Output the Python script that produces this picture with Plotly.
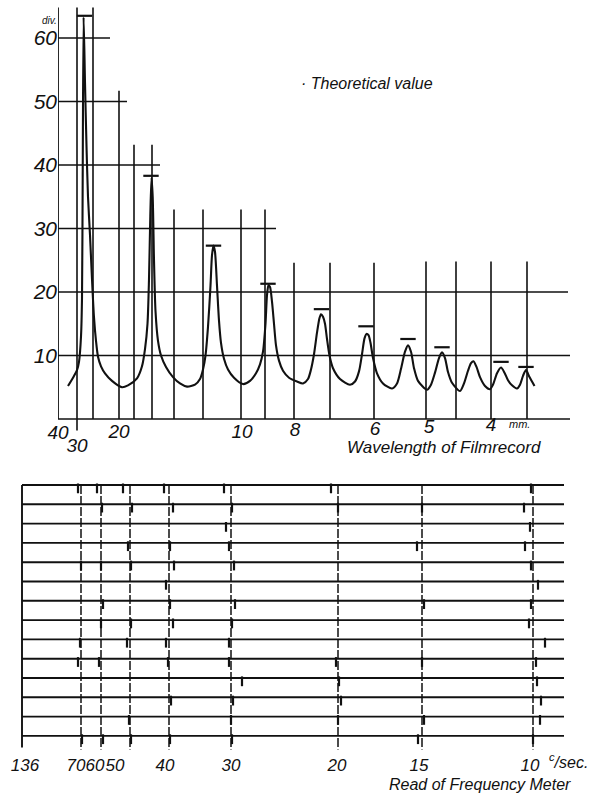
import plotly.graph_objects as go

FONT = "Liberation Sans"
INK = "#111111"

# ---------------- upper chart: resonance curve ----------------
y_ticks = [10, 20, 30, 40, 50, 60]
axis_start = 58          # position of the 40 mm end of the scale
axis_top = 64.8
hgrid_vals = [60, 50, 40, 30, 20, 10, 0]
hgrid_end = [110, 127, 160, 276, 568, 570, 570]

vgrid_pos = [77, 93, 119, 134, 152, 174, 203, 241, 265, 294, 330, 374, 426, 456, 491, 527]
vgrid_top = [64.8, 64.8, 51.7, 43.2, 43.2, 33.0, 33.0, 33.0, 33.0, 24.6, 24.6, 24.6, 24.8, 24.8, 24.8, 24.8]
vgrid_bot = [-1.8, 0, 0, 0, 0, 0, 0, 0, 0, 0, 0, 0, 0, 0, 0, 0]

wl_labels = ["40", "30", "20", "10", "8", "6", "5", "4"]
wl_pos = [58, 77, 119, 242, 295, 375, 429, 491]
wl_y = [-2.4, -4.4, -2.3, -2.3, -1.9, -1.7, -1.4, -1.1]

curve_x = [68, 73, 77, 79, 81, 82, 82.7, 83.6, 85, 86.5, 88, 90, 92, 94, 96, 98, 101, 105, 112, 122,
           128, 137, 142, 145, 147.5, 149, 150.3, 151.5, 152.7, 154, 155.5, 158, 161, 166, 173, 180, 187,
           195, 200, 203, 205.5, 208, 210.5, 212, 213.5, 215, 217, 219, 221, 224, 228, 234, 243,
           250, 256, 260, 263, 265.5, 267, 268.5, 270, 272, 274, 276, 279, 283, 289, 297, 303,
           308, 311, 314, 317, 319.5, 321, 323, 325, 327, 329.5, 333, 340, 350,
           355, 359, 362, 364.5, 366.5, 368.5, 370.5, 373, 377, 383, 392,
           397, 401, 405, 408, 411, 414, 418, 427,
           431, 435, 439, 442, 445, 448, 452, 460,
           464, 468, 471, 473.5, 476.5, 480, 485, 490,
           493, 497, 501, 504.5, 508, 512, 517,
           520, 523, 526, 529.5, 534.5]
curve_y = [5.2, 6.5, 7.7, 9.0, 13, 19, 38, 63.3, 53, 43, 35, 29, 22, 16, 12.3, 9.8, 8.3, 7.2, 6.0, 5.0,
           5.3, 6.4, 8.3, 11, 15, 22, 32, 38, 35, 25, 17, 12.3, 10, 8.2, 6.6, 5.6, 5.1,
           5.4, 6.3, 7.8, 10, 14.5, 21, 25.8, 27.3, 26.3, 21, 15.5, 12, 9.5, 7.8, 6.5, 5.5,
           6.0, 7.2, 8.6, 10.6, 15, 19.5, 21.1, 20.8, 18.5, 15, 11.6, 9.2, 7.6, 6.5, 5.9, 5.6,
           6.3, 7.8, 10.2, 13.6, 15.9, 16.5, 16.1, 15, 12.6, 10, 8.0, 6.3, 5.4,
           5.9, 7.5, 10.2, 12.7, 13.4, 13.2, 12.0, 9.6, 7.2, 5.6, 4.8,
           5.6, 7.9, 10.6, 11.6, 10.6, 8.0, 6.0, 4.6,
           5.4, 7.3, 9.6, 10.5, 9.6, 7.4, 5.7, 4.4,
           5.6, 7.6, 8.8, 9.1, 8.2, 6.6, 5.2, 4.7,
           5.4, 7.2, 8.1, 7.3, 6.1, 5.3, 4.8,
           5.4, 6.8, 7.7, 6.6, 5.2]

theo_x = [84.5, 151, 213.5, 268, 321.5, 366, 408, 442, 501, 526]
theo_y = [63.5, 38.3, 27.3, 21.3, 17.3, 14.6, 12.6, 11.3, 9.0, 8.2]

# ---------------- lower chart: frequency meter reads ----------------
n_rows = 14
row_start = 22
row_end = 564
frame_bottom = 13.6
freq_line_x = [81, 101, 130, 169, 231, 338, 422, 533]
freq_line_bottom = 13.7
freq_labels = ["136", "70", "60", "50", "40", "30", "20", "15", "10"]
freq_label_x = [25, 76, 95, 115, 165, 231, 337, 419, 530]
freq_label_row = 14.6

read_marks = {
    0: [78, 97, 123, 164, 224, 331, 531],
    1: [102, 132, 173, 232, 338, 422, 524],
    2: [226, 530],
    3: [128, 170, 229, 417, 525],
    4: [81, 101, 131, 174, 234, 531],
    5: [166, 538],
    6: [103, 170, 235, 424, 531],
    7: [101, 131, 173, 232, 529],
    8: [80, 127, 166, 229, 545],
    9: [78, 99, 168, 229, 336, 422, 536],
    10: [242, 339, 537],
    11: [171, 233, 341, 541],
    12: [129, 231, 338, 424, 540],
    13: [82, 103, 131, 170, 232, 418, 533],
}


def segs(x0s, x1s, y0s, y1s):
    xs, ys = [], []
    for a, b, c, d in zip(x0s, x1s, y0s, y1s):
        xs += [a, b, None]
        ys += [c, d, None]
    return xs, ys


fig = go.Figure()
line = dict(color=INK, width=1.6)

# upper chart grid
hx, hy = segs([axis_start] * len(hgrid_vals), hgrid_end, hgrid_vals, hgrid_vals)
fig.add_trace(go.Scatter(x=hx, y=hy, mode="lines", line=line, xaxis="x", yaxis="y", hoverinfo="skip"))
fig.add_trace(go.Scatter(x=[axis_start, axis_start], y=[0, axis_top], mode="lines",
                         line=dict(color=INK, width=1.8), xaxis="x", yaxis="y", hoverinfo="skip"))
vx, vy = segs(vgrid_pos, vgrid_pos, vgrid_bot, vgrid_top)
fig.add_trace(go.Scatter(x=vx, y=vy, mode="lines", line=line, xaxis="x", yaxis="y", hoverinfo="skip"))

# resonance curve
fig.add_trace(go.Scatter(x=curve_x, y=curve_y, mode="lines",
                         line=dict(color=INK, width=2.1, shape="spline", smoothing=0.7),
                         xaxis="x", yaxis="y"))
# theoretical values
fig.add_trace(go.Scatter(x=theo_x, y=theo_y, mode="markers",
                         marker=dict(symbol="line-ew", size=11, line=dict(color=INK, width=2.2)),
                         xaxis="x", yaxis="y"))
# wavelength labels
fig.add_trace(go.Scatter(x=wl_pos, y=wl_y, mode="text",
                         text=["<i>%s</i>" % t for t in wl_labels],
                         textfont=dict(family=FONT, size=19, color=INK),
                         cliponaxis=False, xaxis="x", yaxis="y"))

# lower chart
rx, ry = segs([row_start] * n_rows, [row_end] * n_rows, list(range(n_rows)), list(range(n_rows)))
fig.add_trace(go.Scatter(x=rx, y=ry, mode="lines", line=dict(color=INK, width=1.9),
                         xaxis="x2", yaxis="y2", hoverinfo="skip"))
fig.add_trace(go.Scatter(x=[row_start, row_start], y=[0, frame_bottom], mode="lines",
                         line=dict(color=INK, width=1.9), xaxis="x2", yaxis="y2", hoverinfo="skip"))
fx, fy = segs(freq_line_x, freq_line_x, [0] * len(freq_line_x), [freq_line_bottom] * len(freq_line_x))
fig.add_trace(go.Scatter(x=fx, y=fy, mode="lines",
                         line=dict(color=INK, width=1.5, dash="9px,2px"),
                         xaxis="x2", yaxis="y2", hoverinfo="skip"))
mx, my = [], []
for r, xs in read_marks.items():
    for x in xs:
        mx.append(x)
        my.append(r + 0.17)
fig.add_trace(go.Scatter(x=mx, y=my, mode="markers",
                         marker=dict(symbol="line-ns", size=7, line=dict(color=INK, width=2.2)),
                         xaxis="x2", yaxis="y2"))
fig.add_trace(go.Scatter(x=freq_label_x, y=[freq_label_row] * len(freq_label_x), mode="text",
                         text=["<i>%s</i>" % t for t in freq_labels],
                         textfont=dict(family=FONT, size=17, color=INK),
                         cliponaxis=False, xaxis="x2", yaxis="y2"))

ann_font = dict(family=FONT, color=INK)
annotations = [
    dict(text="<i>div.</i>", x=40 / 594, y=1 - 13 / 798, xref="paper", yref="paper", showarrow=False,
         font=dict(size=10, **ann_font)),
    dict(text="<i>· Theoretical value</i>", x=299, y=52.9, xref="x", yref="y", showarrow=False,
         xanchor="left", font=dict(size=16, **ann_font)),
    dict(text="<i>mm.</i>", x=519, y=-0.8, xref="x", yref="y", showarrow=False,
         font=dict(size=11, **ann_font)),
    dict(text="<i>Wavelength of Filmrecord</i>", x=444, y=-4.5, xref="x", yref="y", showarrow=False,
         font=dict(size=17, **ann_font)),
    dict(text="<i><sup>c</sup>/sec.</i>", x=568, y=14.3, xref="x2", yref="y2", showarrow=False,
         font=dict(size=16, **ann_font)),
    dict(text="<i>Read of Frequency Meter</i>", x=480, y=15.5, xref="x2", yref="y2", showarrow=False,
         font=dict(size=16, **ann_font)),
]

hidden = dict(showgrid=False, zeroline=False, showline=False, showticklabels=False, ticks="")
fig.update_layout(
    width=594, height=798,
    margin=dict(l=0, r=0, t=0, b=0),
    paper_bgcolor="white", plot_bgcolor="white",
    showlegend=False,
    xaxis=dict(domain=[58 / 594, 1], range=[58, 594], anchor="y", **hidden),
    yaxis=dict(domain=[0.42719, 0.99612], range=[-6, 65.5], anchor="x",
               showgrid=False, zeroline=False, showline=False, ticks="",
               tickvals=y_ticks, ticktext=["<i>%d</i>" % v for v in y_ticks],
               tickfont=dict(family=FONT, size=21, color=INK)),
    xaxis2=dict(domain=[0, 1], range=[0, 594], anchor="y2", **hidden),
    yaxis2=dict(domain=[0.0004, 0.4019], range=[16.2, -0.4], anchor="x2", **hidden),
    annotations=annotations,
)

fig.write_html("out.html")
